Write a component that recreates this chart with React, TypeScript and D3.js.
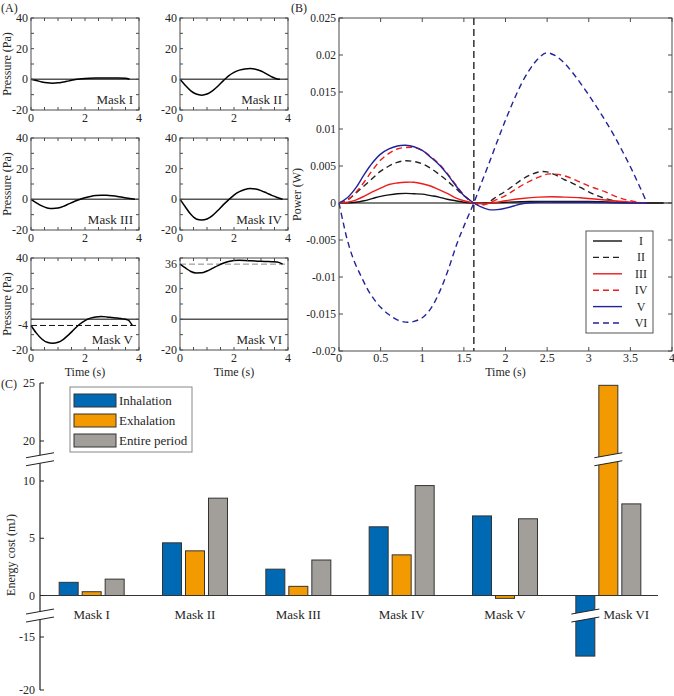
import React from "react";
import * as d3 from "d3";

const FONT = "'Liberation Serif','Times New Roman',serif";
const TXT = "#262626";
const AX = "#4a4a4a";

type P = [number, number];

// ---------- Panel A: pressure curves ----------
const maskNames = ["Mask I", "Mask II", "Mask III", "Mask IV", "Mask V", "Mask VI"];

const pressureI: P[] = [[0,0],[0.2,-0.8],[0.4,-1.7],[0.6,-2.3],[0.8,-2.5],[1.0,-2.3],[1.2,-1.7],[1.4,-1.0],[1.6,-0.3],[1.8,0.2],[2.0,0.5],[2.4,0.8],[2.8,0.9],[3.2,0.9],[3.5,0.7],[3.65,0]];
const pressureII: P[] = [[0,0],[0.2,-4],[0.4,-7.5],[0.6,-9.6],[0.8,-10.3],[1.0,-9.6],[1.2,-7.5],[1.4,-4.5],[1.6,-1],[1.8,2.2],[2.0,4.5],[2.2,6.0],[2.4,6.8],[2.6,7.0],[2.8,6.6],[3.0,5.4],[3.2,3.6],[3.4,1.6],[3.6,0.2],[3.7,0]];
const pressureIII: P[] = [[0,0],[0.2,-2.3],[0.4,-4.3],[0.6,-5.6],[0.8,-6.0],[1.0,-5.7],[1.2,-4.6],[1.4,-3.0],[1.6,-1.4],[1.8,-0.1],[2.0,1.0],[2.2,1.9],[2.4,2.5],[2.6,2.7],[2.8,2.6],[3.0,2.3],[3.2,1.9],[3.4,1.3],[3.6,0.7],[3.85,0]];
const pressureIV: P[] = [[0,0],[0.2,-5],[0.4,-9.8],[0.6,-12.8],[0.8,-13.5],[1.0,-12.8],[1.2,-10.6],[1.4,-7.3],[1.6,-3.6],[1.8,-0.3],[2.0,2.8],[2.2,5.0],[2.4,6.4],[2.6,7.0],[2.8,6.7],[3.0,5.7],[3.2,4.2],[3.4,2.6],[3.6,1.2],[3.8,0]];
const pressureV: P[] = [[0,-4],[0.2,-9],[0.4,-12.8],[0.6,-15],[0.8,-15.6],[1.0,-15],[1.2,-13],[1.4,-10],[1.6,-6.5],[1.8,-3.2],[2.0,-0.8],[2.2,0.8],[2.4,1.6],[2.6,1.8],[2.8,1.6],[3.0,1.2],[3.2,0.8],[3.4,0.3],[3.6,-0.5],[3.75,-4]];
const pressureVI: P[] = [[0,36],[0.2,33.5],[0.4,31.2],[0.6,30.2],[0.8,30.3],[1.0,31.5],[1.2,33.2],[1.4,35],[1.6,36.6],[1.8,37.7],[2.0,38.3],[2.2,38.5],[2.4,38.4],[2.6,38.2],[2.8,38.0],[3.0,37.8],[3.2,37.7],[3.4,37.6],[3.6,37.4],[3.8,36]];
const pressureSeries = [pressureI, pressureII, pressureIII, pressureIV, pressureV, pressureVI];
const pressureRefLevel: (number | null)[] = [null, null, null, null, -4, 36];
const pressureRefColor = ["#000", "#000", "#000", "#000", "#111", "#888"];
const pressureYLabels: number[][] = [[40,20,0,-20],[40,20,0,-20],[40,20,0,-20],[40,20,0,-20],[40,20,-4,-20],[36,20,0,-20]];
const pressureXLabels = [0, 2, 4];
const pressureXTicks = [0,0.5,1,1.5,2,2.5,3,3.5,4];
const pressureYTicks = [-20,-10,0,10,20,30,40];

// ---------- Panel B: power curves ----------
const powerLabels = ["I", "II", "III", "IV", "V", "VI"];
const powerColors = ["#111111", "#222222", "#ee1c1c", "#ee1c1c", "#22239a", "#22239a"];
const powerDashed = [false, true, false, true, false, true];
const powerI: P[] = [[0,0],[0.2,0.0001],[0.3,0.0003],[0.4,0.0006],[0.5,0.0009],[0.6,0.0011],[0.7,0.00125],[0.8,0.0013],[0.9,0.00125],[1.0,0.0012],[1.1,0.001],[1.2,0.0008],[1.3,0.0005],[1.4,0.0003],[1.5,0.0001],[1.62,0],[1.8,0],[2.0,0.0001],[2.3,0.0002],[2.6,0.0002],[3.0,0.0002],[3.4,0.0001],[3.7,0],[3.9,0]];
const powerII: P[] = [[0,0],[0.1,0.0004],[0.2,0.0013],[0.3,0.0023],[0.4,0.0033],[0.5,0.0043],[0.6,0.005],[0.7,0.0055],[0.8,0.0057],[0.9,0.0056],[1.0,0.0053],[1.1,0.0047],[1.2,0.0039],[1.3,0.003],[1.4,0.002],[1.5,0.001],[1.62,0],[1.77,0],[1.9,0.0009],[2.0,0.0016],[2.1,0.0024],[2.2,0.0032],[2.3,0.0038],[2.4,0.0042],[2.5,0.0042],[2.6,0.0038],[2.7,0.0032],[2.8,0.0027],[2.9,0.0021],[3.0,0.0015],[3.1,0.001],[3.2,0.0006],[3.3,0.0003],[3.4,0.0001],[3.46,0]];
const powerIII: P[] = [[0,0],[0.1,0.0001],[0.2,0.0004],[0.3,0.0009],[0.4,0.0015],[0.5,0.002],[0.6,0.0025],[0.7,0.0027],[0.8,0.0028],[0.9,0.0028],[1.0,0.0026],[1.1,0.0023],[1.2,0.0018],[1.3,0.0013],[1.4,0.0007],[1.5,0.0003],[1.62,0],[1.75,-0.0001],[1.9,0.0001],[2.0,0.0003],[2.2,0.0006],[2.4,0.0008],[2.55,0.00085],[2.7,0.0008],[2.9,0.0007],[3.1,0.0005],[3.3,0.0003],[3.5,0.0001],[3.7,0]];
const powerIV: P[] = [[0,0],[0.1,0.0004],[0.2,0.0014],[0.3,0.0028],[0.4,0.0044],[0.5,0.0058],[0.6,0.0067],[0.7,0.0073],[0.8,0.0075],[0.9,0.0075],[1.0,0.0071],[1.1,0.0063],[1.2,0.0053],[1.3,0.004],[1.4,0.0025],[1.5,0.0011],[1.62,0],[1.7,-0.0003],[1.78,-0.0001],[1.9,0.0005],[2.0,0.001],[2.1,0.0017],[2.2,0.0024],[2.3,0.003],[2.4,0.0035],[2.5,0.0039],[2.6,0.0039],[2.7,0.0037],[2.8,0.0033],[2.9,0.0028],[3.0,0.0023],[3.1,0.0019],[3.2,0.0015],[3.3,0.001],[3.4,0.0006],[3.5,0.0003],[3.65,0]];
const powerV: P[] = [[0,0],[0.1,0.0007],[0.2,0.002],[0.3,0.0038],[0.4,0.0054],[0.5,0.0066],[0.6,0.0073],[0.7,0.0077],[0.8,0.0078],[0.9,0.0076],[1.0,0.0071],[1.1,0.0062],[1.2,0.0052],[1.3,0.0039],[1.4,0.0024],[1.5,0.001],[1.62,0],[1.7,-0.0005],[1.8,-0.0009],[1.9,-0.0009],[2.0,-0.0007],[2.1,-0.0004],[2.2,-0.0001],[2.4,0.0001],[2.7,0.0001],[3.0,0.0001],[3.4,0],[3.7,0]];
const powerVI: P[] = [[0,0],[0.05,-0.0026],[0.1,-0.005],[0.18,-0.0078],[0.27,-0.01],[0.35,-0.0118],[0.42,-0.013],[0.5,-0.0141],[0.59,-0.015],[0.7,-0.0158],[0.8,-0.0161],[0.9,-0.016],[1.0,-0.0155],[1.1,-0.0143],[1.2,-0.0122],[1.3,-0.0094],[1.42,-0.0054],[1.52,-0.0026],[1.62,0],[1.7,0.0024],[1.8,0.0053],[1.9,0.0083],[2.0,0.0112],[2.1,0.0139],[2.2,0.0163],[2.3,0.0182],[2.4,0.0196],[2.49,0.0203],[2.6,0.0199],[2.7,0.019],[2.8,0.0177],[2.9,0.0162],[3.0,0.0146],[3.1,0.0129],[3.2,0.0111],[3.3,0.0092],[3.4,0.0071],[3.5,0.0049],[3.6,0.0025],[3.7,0]];
const powerSeries = [powerI, powerII, powerIII, powerIV, powerV, powerVI];
const powerXTicks = [0,0.5,1,1.5,2,2.5,3,3.5,4];
const powerYTicks = [-0.02,-0.015,-0.01,-0.005,0,0.005,0.01,0.015,0.02,0.025];
const phaseSwitch = 1.62;

// ---------- Panel C: energy bars ----------
const phaseNames = ["Inhalation", "Exhalation", "Entire period"];
const phaseColors = ["#0069b4", "#f39a00", "#a29f9a"];
const inhalation = [1.15, 4.6, 2.3, 6.0, 6.95, -16.8];
const exhalation = [0.33, 3.9, 0.8, 3.55, -0.25, 24.8];
const entire = [1.43, 8.5, 3.1, 9.6, 6.7, 8.0];
const energyTicks = [25, 20, 10, 5, 0, -15, -20];

function fmtPow(v: number) {
  if (Math.abs(v) < 1e-9) return "0";
  return String(+v.toFixed(3));
}

function PressurePlot({ idx, x0, y0 }: { idx: number; x0: number; y0: number }) {
  const W = 108, H = 92;
  const x = d3.scaleLinear().domain([0, 4]).range([x0, x0 + W]);
  const y = d3.scaleLinear().domain([-20, 40]).range([y0 + H, y0]);
  const line = d3.line<P>().x(d => x(d[0])).y(d => y(d[1])).curve(d3.curveMonotoneX);
  const ref = pressureRefLevel[idx];
  const tl = 3;
  return (
    <g>
      <line x1={x(0)} x2={x(4)} y1={y(0)} y2={y(0)} stroke="#555" strokeWidth={1.5} />
      {ref !== null && (
        <line x1={x(0)} x2={x(4)} y1={y(ref)} y2={y(ref)} stroke={pressureRefColor[idx]} strokeWidth={1} strokeDasharray="6,3" />
      )}
      <path d={line(pressureSeries[idx]) || ""} fill="none" stroke="#000" strokeWidth={1.5} />
      <rect x={x0} y={y0} width={W} height={H} fill="none" stroke={AX} strokeWidth={1} />
      {pressureXTicks.map(t => (
        <g key={"xt" + t}>
          <line x1={x(t)} x2={x(t)} y1={y0 + H} y2={y0 + H - tl} stroke={AX} />
          <line x1={x(t)} x2={x(t)} y1={y0} y2={y0 + tl} stroke={AX} />
        </g>
      ))}
      {pressureYTicks.map(t => (
        <g key={"yt" + t}>
          <line x1={x0} x2={x0 + tl} y1={y(t)} y2={y(t)} stroke={AX} />
          <line x1={x0 + W} x2={x0 + W - tl} y1={y(t)} y2={y(t)} stroke={AX} />
        </g>
      ))}
      {pressureXLabels.map(t => (
        <text key={"xl" + t} x={x(t)} y={y0 + H + 12} textAnchor="middle" fontSize={12} fill={TXT}>{t}</text>
      ))}
      {pressureYLabels[idx].map(t => (
        <text key={"yl" + t} x={x0 - 3} y={y(t) + 4} textAnchor="end" fontSize={12} fill={TXT}>{t}</text>
      ))}
      <text x={x0 + W - 6} y={y0 + H - 6} textAnchor="end" fontSize={13} fill={TXT}>{maskNames[idx]}</text>
    </g>
  );
}

function PanelB() {
  const L = 339, R = 672, T = 18, B = 351;
  const x = d3.scaleLinear().domain([0, 4]).range([L, R]);
  const y = d3.scaleLinear().domain([-0.02, 0.025]).range([B, T]);
  const line = d3.line<P>().x(d => x(d[0])).y(d => y(d[1])).curve(d3.curveCatmullRom.alpha(0.5));
  const tl = 4;
  const lgL = 586, lgT = 231, lgW = 67, lgH = 102, rowH = 16.4;
  return (
    <g>
      <line x1={L} x2={R} y1={y(0)} y2={y(0)} stroke="#555" strokeWidth={1.5} />
      {powerSeries.map((s, i) => (
        <path key={i} d={line(s) || ""} fill="none" stroke={powerColors[i]} strokeWidth={1.4}
          strokeDasharray={powerDashed[i] ? "6,4" : undefined} />
      ))}
      <line x1={x(phaseSwitch)} x2={x(phaseSwitch)} y1={T} y2={B} stroke="#000" strokeWidth={1.2} strokeDasharray="7,4" />
      <rect x={L} y={T} width={R - L} height={B - T} fill="none" stroke={AX} strokeWidth={1} />
      {powerXTicks.map(t => (
        <g key={"x" + t}>
          <line x1={x(t)} x2={x(t)} y1={B} y2={B - tl} stroke={AX} />
          <line x1={x(t)} x2={x(t)} y1={T} y2={T + tl} stroke={AX} />
          <text x={x(t)} y={B + 11} textAnchor="middle" fontSize={12} fill={TXT}>{t}</text>
        </g>
      ))}
      {powerYTicks.map(t => (
        <g key={"y" + t}>
          <line x1={L} x2={L + tl} y1={y(t)} y2={y(t)} stroke={AX} />
          <line x1={R} x2={R - tl} y1={y(t)} y2={y(t)} stroke={AX} />
          <text x={L - 3} y={y(t) + 4} textAnchor="end" fontSize={11.5} fill={TXT}>{fmtPow(t)}</text>
        </g>
      ))}
      <text x={(L + R) / 2} y={B + 25} textAnchor="middle" fontSize={12} fill={TXT}>Time (s)</text>
      <text transform={`translate(301,${(T + B) / 2 + 10}) rotate(-90)`} textAnchor="middle" fontSize={12} fill={TXT}>Power (W)</text>
      <rect x={lgL} y={lgT} width={lgW} height={lgH} fill="#fff" stroke="#555" strokeWidth={1} />
      {powerLabels.map((lab, i) => {
        const cy = lgT + 10 + i * rowH;
        return (
          <g key={lab}>
            <line x1={lgL + 7} x2={lgL + 36} y1={cy} y2={cy} stroke={powerColors[i]} strokeWidth={1.4}
              strokeDasharray={powerDashed[i] ? "6,4" : undefined} />
            <text x={lgL + 55} y={cy + 4} textAnchor="middle" fontSize={12} fill={TXT}>{lab}</text>
          </g>
        );
      })}
    </g>
  );
}

function PanelC() {
  const axisX = 40, rightX = 658;
  const upper = d3.scaleLinear().domain([20, 25]).range([441, 383]);
  const middle = d3.scaleLinear().domain([0, 10]).range([595.5, 481]);
  const lower = d3.scaleLinear().domain([-20, -15]).range([690, 637]);
  const yC = (v: number) => (v >= 15 ? upper(v) : v >= -7 ? middle(v) : lower(v));
  const upperBreakY = middle(11.9);
  const lowerBreakY = middle(-1.75);
  const xg = d3.scaleBand<string>().domain(maskNames).range([axisX, 660]);
  const xs = d3.scaleBand<string>().domain(phaseNames).range([-34.5, 34.5]).paddingInner(0.174).paddingOuter(0.087);
  const seriesVals = [inhalation, exhalation, entire];

  const breakMark = (cx: number, cy: number, halfW: number, key: string) => {
    const s = 2.5;
    const g = 4;
    return (
      <g key={key}>
        <polygon points={`${cx - halfW},${cy - g + s} ${cx + halfW},${cy - g - s} ${cx + halfW},${cy + g - s} ${cx - halfW},${cy + g + s}`} fill="#fff" />
        <line x1={cx - halfW} y1={cy - g + s} x2={cx + halfW} y2={cy - g - s} stroke="#222" strokeWidth={1} />
        <line x1={cx - halfW} y1={cy + g + s} x2={cx + halfW} y2={cy + g - s} stroke="#222" strokeWidth={1} />
      </g>
    );
  };

  const bars: JSX.Element[] = [];
  const barBreaks: JSX.Element[] = [];
  maskNames.forEach((m, i) => {
    phaseNames.forEach((p, j) => {
      const v = seriesVals[j][i];
      const bx = (xg(m) || 0) + xg.bandwidth() / 2 + (xs(p) || 0);
      const y0 = yC(0), y1 = yC(v);
      bars.push(
        <rect key={m + p} x={bx} y={Math.min(y0, y1)} width={xs.bandwidth()} height={Math.abs(y1 - y0)}
          fill={phaseColors[j]} stroke="#333" strokeWidth={1} />
      );
      if (v > 15) barBreaks.push(breakMark(bx + xs.bandwidth() / 2, upperBreakY, 14, "bb" + m + p));
      if (v < -7) barBreaks.push(breakMark(bx + xs.bandwidth() / 2, lowerBreakY, 14, "bb" + m + p));
    });
  });

  return (
    <g>
      {bars}
      <line x1={axisX} x2={rightX} y1={yC(0)} y2={yC(0)} stroke="#333" strokeWidth={1.2} />
      <line x1={axisX} x2={axisX} y1={upper(25)} y2={lower(-20)} stroke="#222" strokeWidth={1.2} />
      {energyTicks.map(t => (
        <g key={t}>
          <line x1={axisX} x2={axisX + 4} y1={yC(t)} y2={yC(t)} stroke="#222" />
          <text x={axisX - 5} y={yC(t) + 4} textAnchor="end" fontSize={12} fill={TXT}>{t}</text>
        </g>
      ))}
      {breakMark(axisX, upperBreakY, 14, "ab1")}
      {breakMark(axisX, lowerBreakY, 14, "ab2")}
      {barBreaks}
      {maskNames.map((m, i) => (
        <text key={m} x={(xg(m) || 0) + xg.bandwidth() / 2 + (i === maskNames.length - 1 ? 18 : 0)} y={619}
          textAnchor="middle" fontSize={13} fill={TXT}>{m}</text>
      ))}
      <text transform={`translate(15,555) rotate(-90)`} textAnchor="middle" fontSize={12} fill={TXT}>Energy cost (mJ)</text>
      <rect x={70} y={387} width={122} height={65} fill="#fff" stroke="#888" strokeWidth={1} />
      {phaseNames.map((p, j) => (
        <g key={p}>
          <rect x={74} y={394 + j * 20} width={42} height={13} fill={phaseColors[j]} stroke="#333" strokeWidth={1} />
          <text x={119} y={405 + j * 20} fontSize={13} fill={TXT}>{p}</text>
        </g>
      ))}
    </g>
  );
}

export default function App() {
  const colX = [31, 180];
  const rowY = [18, 138, 258];
  return (
    <svg width={674} height={696} style={{ position: "absolute", left: 0, top: 0, background: "#fff" }} fontFamily={FONT}>
      <rect width={674} height={696} fill="#fff" />
      <text x={1} y={12} fontSize={12} fill={TXT}>(A)</text>
      <text x={291} y={12} fontSize={12} fill={TXT}>(B)</text>
      <text x={1} y={388} fontSize={12} fill={TXT}>(C)</text>
      {maskNames.map((m, i) => (
        <PressurePlot key={m} idx={i} x0={colX[i % 2]} y0={rowY[Math.floor(i / 2)]} />
      ))}
      {rowY.map((ry, r) => (
        <text key={"pl" + r} transform={`translate(11,${ry + 46}) rotate(-90)`} textAnchor="middle" fontSize={12} fill={TXT}>Pressure (Pa)</text>
      ))}
      {colX.map((cx, c) => (
        <text key={"tl" + c} x={cx + 54} y={376} textAnchor="middle" fontSize={12} fill={TXT}>Time (s)</text>
      ))}
      <PanelB />
      <PanelC />
    </svg>
  );
}
